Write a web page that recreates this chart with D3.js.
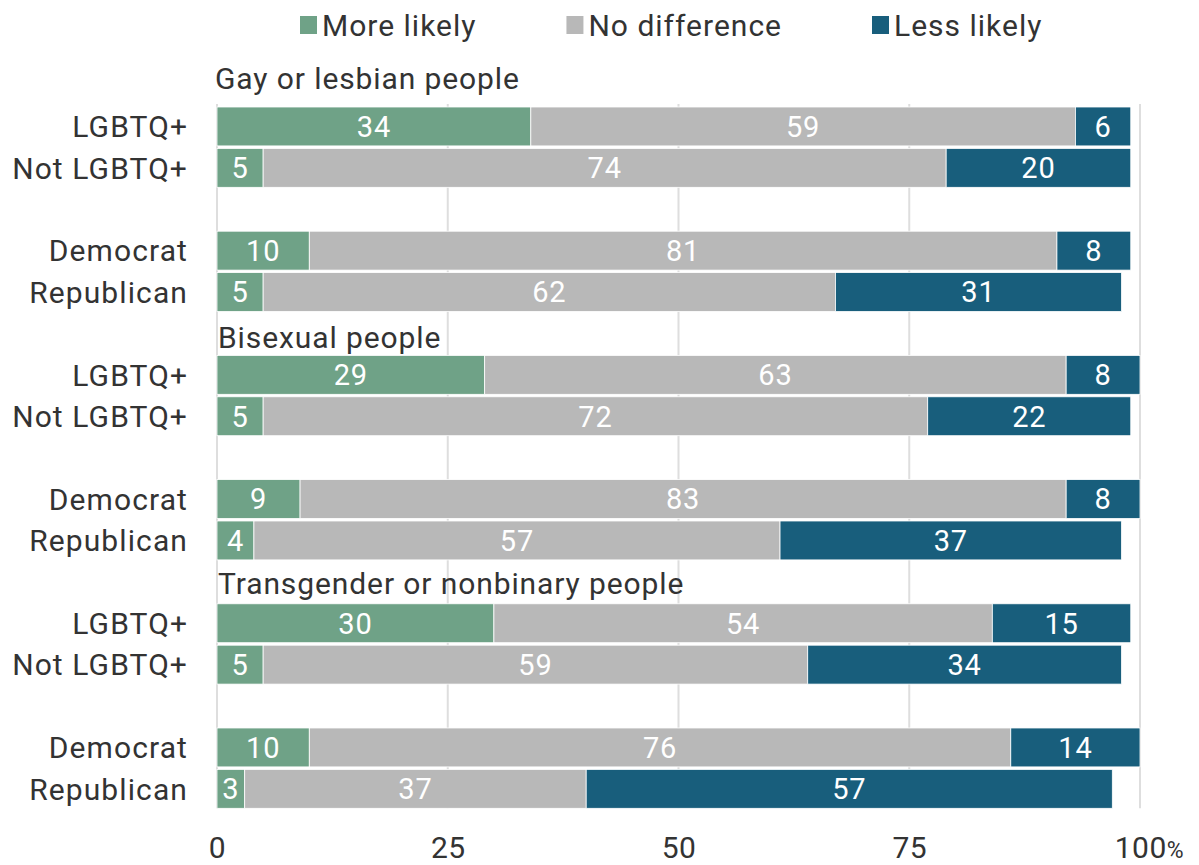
<!DOCTYPE html>
<html>
<head>
	<title>Chart</title>
	<meta charset='utf-8'>
	<style>
		body { margin: 0; background: #fff; }
		svg { font-family: Roboto, sans-serif; }
		.grid line { stroke: #dedede; stroke-width: 2px; }
		.cat { fill: #333; font-size: 30px; letter-spacing: 1.1px; }
		.section { fill: #333; font-size: 30px; letter-spacing: 0.9px; }
		.val { fill: #fff; font-size: 29px; letter-spacing: 0.8px; }
		.legend text { fill: #333; font-size: 30px; letter-spacing: 1px; }
		.axis text { fill: #333; font-size: 30px; font-family: Roboto, sans-serif; letter-spacing: 0.5px; }
		.axis path.domain { display: none; }
	</style>
</head>
<body>

<script src='https://d3js.org/d3.v7.min.js'></script>
<script>
	'use strict';

	const sections = ['Gay or lesbian people', 'Bisexual people', 'Transgender or nonbinary people'];
	const groups = ['LGBTQ+', 'Not LGBTQ+', 'Democrat', 'Republican'];
	const seriesNames = ['More likely', 'No difference', 'Less likely'];
	const moreLikely = [34, 5, 10, 5, 29, 5, 9, 4, 30, 5, 10, 3];
	const noDifference = [59, 74, 81, 62, 63, 72, 83, 57, 54, 59, 76, 37];
	const lessLikely = [6, 20, 8, 31, 8, 22, 8, 37, 15, 34, 14, 57];
	const tickValues = [0, 25, 50, 75, 100];

	const colors = ['#6fa287', '#b8b8b8', '#185e7c'];
	const W = 1199, H = 865;

	const svg = d3.select('body').append('svg')
		.attr('width', W)
		.attr('height', H);

	// 18 slots: a title slot, 2 rows, a blank, 2 rows per section
	const yScale = d3.scaleBand().domain(d3.range(18)).range([65.6, 808.3]).paddingInner(0.06);
	const xScale = d3.scaleLinear().domain([0, 100]).range([217, 1140]);

	function slotOf(i) {
		const s = Math.floor(i / 4), j = i % 4;
		return s * 6 + 1 + (j < 2 ? j : j + 1);
	}

	const rows = moreLikely.map(function(d, i) {
		const vals = [d, noDifference[i], lessLikely[i]];
		let x0 = 0;
		return {
			group: groups[i % 4],
			slot: slotOf(i),
			segs: vals.map(function(v, k) {
				const seg = {v: v, k: k, x0: x0, x1: x0 + v};
				x0 += v;
				return seg;
			})
		};
	});

	// gridlines
	svg.append('g').attr('class', 'grid')
		.selectAll('line')
		.data(tickValues)
		.enter().append('line')
		.attr('x1', function(d) {return xScale(d);})
		.attr('x2', function(d) {return xScale(d);})
		.attr('y1', yScale(1) - 3)
		.attr('y2', yScale(17) + yScale.bandwidth());

	// bars
	const row = svg.selectAll('.row')
		.data(rows)
		.enter().append('g')
		.attr('class', 'row')
		.attr('transform', function(d) {return 'translate(0,' + yScale(d.slot) + ')';});

	row.selectAll('rect')
		.data(function(d) {return d.segs;})
		.enter().append('rect')
		.attr('x', function(d) {return xScale(d.x0);})
		.attr('width', function(d) {return xScale(d.x1) - xScale(d.x0);})
		.attr('height', yScale.bandwidth())
		.attr('fill', function(d) {return colors[d.k];})
		.attr('stroke', '#fff')
		.attr('stroke-width', 0.8);

	row.selectAll('.val')
		.data(function(d) {return d.segs;})
		.enter().append('text')
		.attr('class', 'val')
		.attr('text-anchor', 'middle')
		.attr('x', function(d) {return (xScale(d.x0) + xScale(d.x1)) / 2;})
		.attr('y', yScale.bandwidth() / 2)
		.attr('dy', '0.36em')
		.text(function(d) {return d.v;});

	row.append('text')
		.attr('class', 'cat')
		.attr('text-anchor', 'end')
		.attr('x', 188)
		.attr('y', yScale.bandwidth() / 2)
		.attr('dy', '0.36em')
		.text(function(d) {return d.group;});

	// section titles
	const titleGap = [18, 7, 10];
	svg.selectAll('.section')
		.data(sections)
		.enter().append('text')
		.attr('class', 'section')
		.attr('x', function(d, i) {return i === 0 ? 215 : 218;})
		.attr('y', function(d, i) {return yScale(i * 6 + 1) - titleGap[i];})
		.text(function(d) {return d;});

	// x axis
	const axis = svg.append('g')
		.attr('class', 'axis')
		.attr('transform', 'translate(0,' + (yScale(17) + yScale.bandwidth()) + ')')
		.call(d3.axisBottom(xScale).tickValues(tickValues).tickSize(0).tickPadding(28));
	axis.selectAll('.tick line').remove();
	axis.selectAll('.tick')
		.filter(function(d) {return d === 100;})
		.select('text')
		.attr('text-anchor', 'start')
		.attr('dx', '-0.86em')
		.append('tspan')
		.style('font-size', '23px')
		.text('%');

	// legend
	const legend = svg.append('g').attr('class', 'legend');
	let lx = 300;
	seriesNames.forEach(function(name, i) {
		const g = legend.append('g').attr('transform', 'translate(' + lx + ',0)');
		g.append('rect')
			.attr('x', 0).attr('y', 16)
			.attr('width', 17).attr('height', 18)
			.attr('fill', colors[i]);
		const t = g.append('text')
			.attr('x', 22).attr('y', 36)
			.text(name);
		lx += 22 + t.node().getComputedTextLength() + 90;
	});
</script>
</body>
</html>
